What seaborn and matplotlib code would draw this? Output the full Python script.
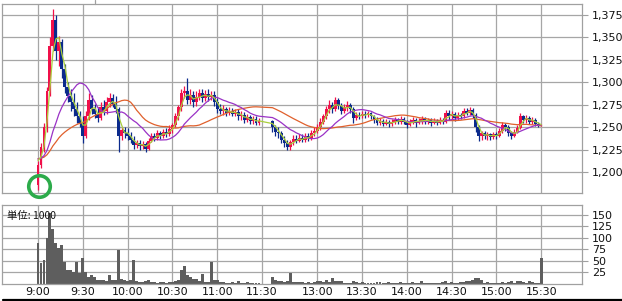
import numpy as np
import pandas as pd
import matplotlib
matplotlib.use("Agg")
import matplotlib.pyplot as plt
from matplotlib.lines import Line2D
from matplotlib.ticker import FuncFormatter
import seaborn as sns

# ---------------- data (2-minute bars) ----------------
# previous session's last closes (only used to seed the moving averages)
prev_close = [1214,1216,1215,1217,1215,1214,1216,1215,1213,1215,
              1216,1214,1215,1217,1216,1215,1214,1215,1216,1215,
              1214,1215,1216,1215,1214,1215,1215]

am_open = [1185,1208,1228,1250,1290,1340,1370,1335,1345,1315,
           1295,1285,1278,1270,1262,1255,1240,1262,1280,1270,
           1265,1260,1272,1268,1278,1282,1276,1270,1240,1247,
           1244,1240,1236,1230,1232,1229,1231,1226,1235,1240,
           1238,1243,1240,1245,1242,1248,1252,1262,1272,1288,
           1290,1280,1286,1278,1284,1288,1282,1287,1284,1286,
           1278,1270,1268,1270,1266,1268,1265,1267,1262,1264,
           1258,1261,1257,1259,1255]
am_high = [1212,1232,1255,1295,1350,1382,1375,1352,1348,1320,
           1300,1292,1288,1278,1268,1262,1268,1288,1286,1276,
           1272,1278,1280,1284,1288,1287,1285,1272,1250,1250,
           1249,1245,1240,1236,1236,1235,1234,1238,1243,1244,
           1247,1246,1248,1249,1252,1255,1266,1275,1292,1296,
           1305,1292,1290,1290,1293,1292,1291,1292,1290,1290,
           1282,1276,1275,1273,1272,1271,1270,1270,1268,1267,
           1265,1264,1262,1262,1260]
am_low = [1180,1205,1222,1245,1285,1335,1325,1318,1305,1288,
          1278,1268,1262,1255,1250,1232,1238,1258,1265,1260,
          1256,1258,1263,1265,1272,1272,1266,1222,1236,1238,
          1236,1232,1226,1227,1225,1226,1222,1224,1233,1235,
          1236,1237,1238,1239,1240,1244,1250,1258,1268,1282,
          1276,1276,1273,1274,1280,1278,1279,1279,1280,1274,
          1266,1265,1264,1262,1263,1262,1262,1258,1258,1255,
          1256,1253,1254,1252,1252]
am_close = [1208,1228,1250,1290,1340,1370,1335,1345,1315,1295,
            1285,1278,1270,1262,1255,1240,1262,1280,1270,1265,
            1260,1272,1268,1278,1282,1276,1270,1240,1247,1244,
            1240,1236,1230,1232,1229,1231,1226,1235,1240,1238,
            1243,1240,1245,1242,1248,1252,1262,1272,1288,1290,
            1280,1286,1278,1284,1288,1282,1287,1284,1286,1278,
            1270,1268,1270,1266,1268,1265,1267,1262,1264,1258,
            1261,1257,1259,1255,1257]
am_volume = [90,45,52,99,155,120,90,78,84,47,
             30,30,26,47,23,56,26,15,19,15,
             9,8,8,7,19,9,9,73,11,9,
             7,8,52,6,5,4,6,9,5,4,
             3,4,5,3,4,5,7,8,30,39,
             19,15,11,11,6,22,5,4,47,9,
             8,5,4,3,3,4,3,7,3,2,
             4,3,3,2,3]

pm_open = [1257,1250,1245,1243,1236,1232,1228,1233,1237,1235,
           1238,1236,1240,1238,1243,1246,1250,1256,1262,1270,
           1275,1270,1280,1274,1268,1272,1275,1270,1260,1264,
           1262,1265,1263,1266,1262,1258,1255,1257,1254,1256,
           1253,1256,1258,1256,1259,1256,1252,1256,1258,1255,
           1257,1259,1256,1258,1255,1257,1255,1258,1256,1266,
           1262,1265,1260,1264,1262,1268,1266,1269,1264,1250,
           1240,1243,1240,1242,1239,1242,1240,1246,1252,1250,
           1244,1240,1245,1249,1262,1258,1260,1256,1258,1254]
pm_high = [1258,1252,1250,1246,1240,1236,1236,1241,1241,1242,
           1242,1243,1244,1247,1250,1253,1260,1265,1274,1280,
           1278,1284,1282,1277,1276,1279,1277,1272,1267,1267,
           1268,1268,1268,1267,1264,1261,1260,1259,1259,1258,
           1259,1261,1260,1262,1261,1258,1259,1261,1260,1260,
           1262,1261,1260,1260,1260,1259,1261,1260,1269,1269,
           1268,1267,1267,1266,1271,1271,1272,1271,1266,1252,
           1246,1246,1245,1244,1245,1245,1249,1256,1255,1252,
           1246,1248,1252,1266,1264,1263,1262,1261,1260,1256]
pm_low = [1245,1240,1238,1232,1228,1225,1225,1230,1232,1233,
          1233,1234,1235,1236,1240,1243,1247,1253,1259,1266,
          1266,1268,1270,1265,1266,1268,1266,1255,1258,1259,
          1260,1260,1261,1259,1255,1252,1252,1251,1252,1250,
          1251,1254,1253,1254,1253,1249,1251,1254,1250,1253,
          1254,1253,1254,1251,1253,1252,1254,1253,1255,1258,
          1259,1257,1258,1259,1260,1263,1264,1260,1245,1235,
          1236,1237,1236,1236,1237,1237,1239,1244,1246,1240,
          1237,1239,1243,1248,1255,1255,1253,1254,1251,1250]
pm_close = [1250,1245,1243,1236,1232,1228,1233,1237,1235,1238,
            1236,1240,1238,1243,1246,1250,1256,1262,1270,1275,
            1270,1280,1274,1268,1272,1275,1270,1260,1264,1262,
            1265,1263,1266,1262,1258,1255,1257,1254,1256,1253,
            1256,1258,1256,1259,1256,1252,1256,1258,1255,1257,
            1259,1256,1258,1255,1257,1255,1258,1256,1266,1262,
            1265,1260,1264,1262,1268,1266,1269,1264,1250,1240,
            1243,1240,1242,1239,1242,1240,1246,1252,1250,1244,
            1240,1245,1249,1262,1258,1260,1256,1258,1254,1252]
pm_volume = [15,9,7,6,5,7,23,5,4,4,
             4,3,4,3,5,7,7,4,9,5,
             14,7,6,6,3,3,3,7,5,3,
             4,2,2,3,2,4,4,2,2,4,
             2,3,2,4,2,3,2,4,3,2,
             6,2,3,2,3,2,3,4,7,3,
             4,2,3,4,5,7,7,9,12,12,
             9,3,4,3,3,2,3,4,3,5,
             6,3,7,6,4,3,7,5,3,3]

# closing auction at 15:30
close_open, close_high, close_low, close_close, close_volume = [1252], [1253], [1251], [1252], [57]

tick_labels = ['9:00', '9:30', '10:00', '10:30', '11:00', '11:30',
               '13:00', '13:30', '14:00', '14:30', '15:00', '15:30']
price_ticks = [1200, 1225, 1250, 1275, 1300, 1325, 1350, 1375]
volume_ticks = [25, 50, 75, 100, 125, 150]
ma_windows = [3, 13, 28]

# ---------------- time axis (minutes, lunch compressed) ----------------
def tmin(label):
    h, m = map(int, label.split(':'))
    mins = (h - 9) * 60 + m
    if mins > 150:          # afternoon: 12:30 starts after a short gap
        mins = mins - 210 + 157
    return mins

am_t = np.arange(len(am_close)) * 2
pm_t = 157 + np.arange(len(pm_close)) * 2
cl_t = np.array([tmin('15:30')])

df = pd.DataFrame({
    't': np.concatenate([am_t, pm_t, cl_t]),
    'o': am_open + pm_open + close_open,
    'h': am_high + pm_high + close_high,
    'l': am_low + pm_low + close_low,
    'c': am_close + pm_close + close_close,
    'v': am_volume + pm_volume + close_volume,
})
all_close = pd.Series(prev_close + list(df['c']))
n_prev = len(prev_close)
for w in ma_windows:
    df[f'ma{w}'] = all_close.rolling(w, min_periods=1).mean().iloc[n_prev:].values

tick_pos = [tmin(s) for s in tick_labels]

# ---------------- figure ----------------
sns.set_style("white")
plt.rcParams['font.family'] = ['DejaVu Sans']
W, H = 622, 301
fig = plt.figure(figsize=(W / 100, H / 100), dpi=100)

def ax_rect(l, t, r, b):
    return [l / W, 1 - b / H, (r - l) / W, (b - t) / H]

axp = fig.add_axes(ax_rect(2, 4, 582, 193))
axv = fig.add_axes(ax_rect(2, 205, 582, 284))

px_per_min = 224 / 150
xlim = (-36 / px_per_min, 544 / px_per_min)
grid_c = '#a6a6a6'
up_c, dn_c = '#f0104a', '#0b2a8c'

for ax in (axp, axv):
    ax.set_xlim(*xlim)
    ax.set_xticks(tick_pos)
    ax.grid(True, color=grid_c, lw=0.9)
    ax.set_axisbelow(True)
    for s in ax.spines.values():
        s.set_color('#a0a0a0')
        s.set_linewidth(0.9)
    ax.yaxis.tick_right()
    ax.tick_params(axis='y', length=4, width=0.8, color='#a0a0a0', pad=3,
                   labelsize=8, labelcolor='#111111')
    ax.tick_params(axis='x', length=0, labelsize=8, labelcolor='#111111', pad=2)

# price panel
axp.set_ylim(1176.6, 1387.3)
axp.set_yticks(price_ticks)
axp.yaxis.set_major_formatter(FuncFormatter(lambda v, p: f'{int(v):,}'))
axp.set_xticklabels([])

up = df['c'] >= df['o']
colors = np.where(up, up_c, dn_c)
axp.vlines(df['t'], df['l'], df['h'], colors=colors, lw=0.9, zorder=2)
body_lo = np.minimum(df['o'], df['c'])
body_h = np.maximum(np.abs(df['c'] - df['o']), 0.8)
axp.bar(df['t'], body_h, bottom=body_lo, width=1.95, color=colors, lw=0, zorder=2)

ma_colors = ['#a9cf3c', '#9a32c6', '#e0602c']
for w, col in zip(reversed(ma_windows), reversed(ma_colors)):
    sns.lineplot(data=df, x='t', y=f'ma{w}', ax=axp, color=col, lw=0.9, zorder=3)
axp.set_xlabel('')
axp.set_ylabel('')

# opening marker circle
axp.plot([1], [df['l'].iloc[0] + 4], marker='o', ms=15.5, mfc='none', mec='#2cab4a',
         mew=2.6, clip_on=False, zorder=5)

# volume panel
axv.bar(df['t'], df['v'], width=1.95, color='#5e5e5e', lw=0, zorder=2)
axv.set_ylim(0, 171.7)
axv.set_yticks(volume_ticks)
axv.set_xticklabels(tick_labels)
axv.set_xlabel('')
axv.set_ylabel('')
axv.text(0.008, 0.93, '単位: 1000', transform=axv.transAxes, fontsize=7.5,
         family=['Noto Sans CJK JP', 'DejaVu Sans'], va='top', ha='left', color='#111111')

# frame decorations
fig.add_artist(Line2D([3 / W, 1], [1 - 300 / H] * 2, color='black', lw=1.6))
fig.add_artist(Line2D([95 / W] * 2, [1, 1 - 4 / H], color='#a0a0a0', lw=0.9))

fig.savefig('out.png', dpi=100)
